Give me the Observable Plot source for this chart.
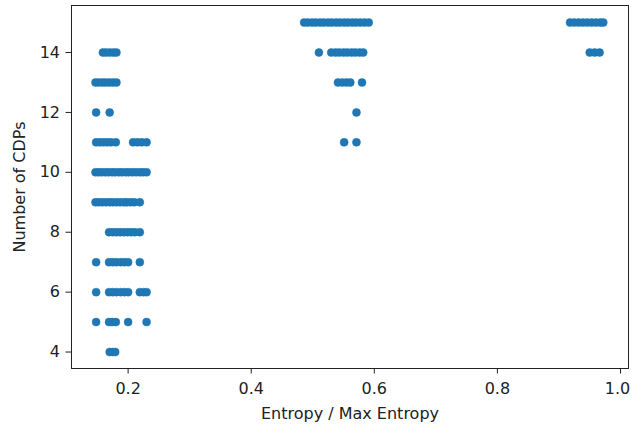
<!DOCTYPE html>
<html>
<head>
<meta charset="utf-8">
<script src="https://cdn.jsdelivr.net/npm/d3@7"></script>
<script src="https://cdn.jsdelivr.net/npm/@observablehq/plot@0.6"></script>
<style>
  html, body { margin: 0; padding: 0; background: #fff; }
  #chart svg { display: block; }
</style>
</head>
<body>
<div id="chart"></div>
<script>
// Entropy / Max Entropy values per "Number of CDPs" level
const cdpLevels = [15, 14, 13, 12, 11, 10, 9, 8, 7, 6, 5, 4];
const entropyAt = {
  15: [0.486, 0.492, 0.499, 0.505, 0.512, 0.518, 0.525, 0.531, 0.538, 0.544, 0.551, 0.557, 0.564, 0.570, 0.577, 0.584, 0.591,
       0.918, 0.925, 0.932, 0.939, 0.946, 0.953, 0.960, 0.967, 0.972],
  14: [0.159, 0.164, 0.170, 0.176, 0.181,
       0.510, 0.530, 0.537, 0.543, 0.550, 0.556, 0.563, 0.569, 0.576, 0.582,
       0.950, 0.958, 0.966],
  13: [0.147, 0.152, 0.158, 0.163, 0.169, 0.175, 0.181,
       0.541, 0.548, 0.555, 0.561, 0.580],
  12: [0.148, 0.170, 0.571],
  11: [0.148, 0.154, 0.160, 0.166, 0.172, 0.180, 0.208, 0.215, 0.222, 0.230,
       0.551, 0.571],
  10: [0.147, 0.152, 0.157, 0.163, 0.168, 0.174, 0.179, 0.185, 0.190, 0.196, 0.201, 0.207, 0.213, 0.219, 0.224, 0.230],
  9:  [0.147, 0.152, 0.158, 0.164, 0.170, 0.175, 0.181, 0.187, 0.193, 0.198, 0.204, 0.210, 0.219],
  8:  [0.169, 0.175, 0.181, 0.187, 0.193, 0.199, 0.205, 0.211, 0.219],
  7:  [0.148, 0.169, 0.175, 0.181, 0.188, 0.194, 0.200, 0.219],
  6:  [0.148, 0.169, 0.175, 0.181, 0.188, 0.194, 0.200, 0.219, 0.225, 0.230],
  5:  [0.148, 0.169, 0.174, 0.180, 0.200, 0.230],
  4:  [0.170, 0.175, 0.179]
};
const xTicks = [0.2, 0.4, 0.6, 0.8, 1.0];
const yTicks = [4, 6, 8, 10, 12, 14];

const points = cdpLevels.flatMap(c => entropyAt[c].map(e => ({entropy: e, cdps: c})));

const font = "DejaVu Sans, sans-serif";
const xFmt = d3.format(".1f");
const lastTick = xTicks[xTicks.length - 1];
const chart = Plot.plot({
  width: 631,
  height: 425,
  marginLeft: 71,
  marginRight: 3,
  marginTop: 5,
  marginBottom: 57,
  style: {fontFamily: font, fontSize: "16px", color: "#222", background: "#fff"},
  x: {domain: [0.108, 1.013]},
  y: {domain: [3.45, 15.57]},
  marks: [
    Plot.frame({stroke: "#222", strokeWidth: 1}),
    Plot.dot(points, {x: "entropy", y: "cdps", r: 4, fill: "#1f77b4", stroke: "#1f77b4", strokeWidth: 0.5}),
    Plot.axisX({ticks: xTicks, tickFormat: d => d === lastTick ? "" : xFmt(d), tickSize: 5.5, tickPadding: 9,
      label: "Entropy / Max Entropy", labelAnchor: "center", labelArrow: "none", labelOffset: 50,
      fontSize: 16, stroke: "#222"}),
    // last x tick label nudged left so it stays inside the window
    Plot.text([lastTick], {x: d => d, text: d => xFmt(d), frameAnchor: "bottom", lineAnchor: "top",
      dy: 14.5, dx: -3, fontSize: 16, fill: "#222"}),
    Plot.axisY({ticks: yTicks, tickSize: 5.5, tickPadding: 6,
      label: "Number of CDPs", labelAnchor: "center", labelArrow: "none", labelOffset: 58,
      fontSize: 16, stroke: "#222"})
  ]
});
document.getElementById("chart").appendChild(chart);
</script>
</body>
</html>
